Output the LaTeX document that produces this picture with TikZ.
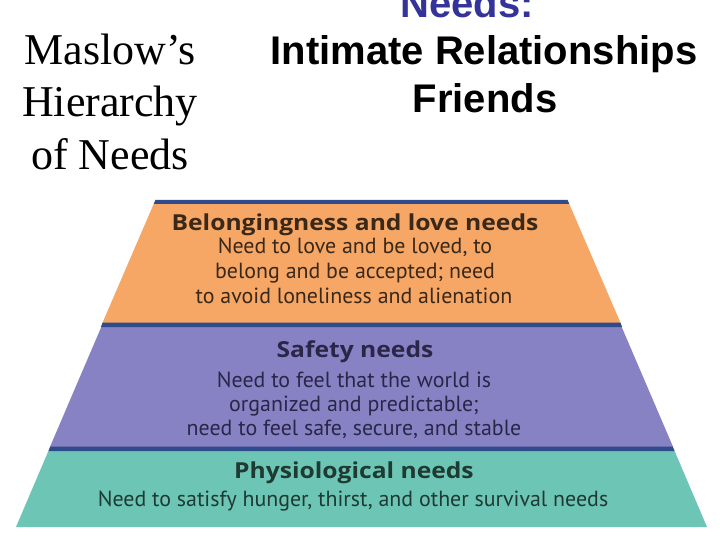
\documentclass[tikz,border=0pt]{standalone}
\usepackage{fontspec}
\setmainfont{Liberation Serif}
\newfontfamily\arialf{Liberation Sans}
\newfontfamily\pyrf{PT Sans}
\newfontfamily\pyrbf[FakeStretch=1.12]{Open Sans}
\definecolor{orangeband}{HTML}{F6A665}
\definecolor{purpleband}{HTML}{8782C4}
\definecolor{tealband}{HTML}{6DC5B5}
\definecolor{sepblue}{HTML}{2F4B8C}
\definecolor{needsblue}{HTML}{333399}
\definecolor{txtorange}{HTML}{3A2818}
\definecolor{txtpurple}{HTML}{2A2648}
\definecolor{txtteal}{HTML}{1E3A32}
\begin{document}
\begin{tikzpicture}[x=1pt,y=-1pt,
  serifline/.style={anchor=base,inner sep=0pt,font=\fontsize{44}{52}\selectfont},
  headline/.style={anchor=base,inner sep=0pt,font=\arialf\bfseries\fontsize{40}{48}\selectfont},
  lvltitle/.style={anchor=base,inner sep=0pt,font=\pyrbf\bfseries\fontsize{22}{25}\selectfont},
  lvlbody/.style={anchor=base,inner sep=0pt,font=\pyrf\fontsize{21.9}{25}\selectfont}]
\useasboundingbox (0,0) rectangle (720,540);
\fill[white] (0,0) rectangle (720,540);
% bands
\fill[orangeband] (153.7,204) -- (569.3,204) -- (620.6,323) -- (102.4,323) -- cycle;
\fill[purpleband] (101.3,327) -- (621.7,327) -- (673.1,447) -- (49.9,447) -- cycle;
\fill[tealband] (48.4,451) -- (674.6,451) -- (707,527) -- (16,527) -- cycle;
% separators
\fill[sepblue] (155.4,200) -- (567.6,200) -- (569.3,204) -- (153.7,204) -- cycle;
\fill[sepblue] (102.6,322.5) -- (620.4,322.5) -- (622.1,327) -- (100.9,327) -- cycle;
\fill[sepblue] (50.3,446.5) -- (672.7,446.5) -- (674.6,451) -- (48.4,451) -- cycle;
% left title
\node[serifline] (t1) at (110,65) {Maslow’s};
\node[serifline] (t2) at (110,117) {Hierarchy};
\node[serifline] (t3) at (110,170) {of Needs};
% right heading
\node[headline,text=needsblue] (h0) at (467,18) {Needs:};
\node[headline] (h1) at (484,65) {Intimate Relationships};
\node[headline] (h2) at (485,113) {Friends};
% belongingness
\node[lvltitle,text=txtorange] (b0) at (355,230) {Belongingness and love needs};
\node[lvlbody,text=txtorange] (b1) at (355,253) {Need to love and be loved, to};
\node[lvlbody,text=txtorange] (b2) at (355,278) {belong and be accepted; need};
\node[lvlbody,text=txtorange] (b3) at (354,303) {to avoid loneliness and alienation};
% safety
\node[lvltitle,text=txtpurple] (s0) at (355,357) {Safety needs};
\node[lvlbody,text=txtpurple] (s1) at (354,387) {Need to feel that the world is};
\node[lvlbody,text=txtpurple] (s2) at (354,411) {organized and predictable;};
\node[lvlbody,text=txtpurple] (s3) at (354,435) {need to feel safe, secure, and stable};
% physiological
\node[lvltitle,text=txtteal] (p0) at (354,478) {Physiological needs};
\node[lvlbody,text=txtteal] (p1) at (353,506) {Need to satisfy hunger, thirst, and other survival needs};
\end{tikzpicture}
\end{document}
